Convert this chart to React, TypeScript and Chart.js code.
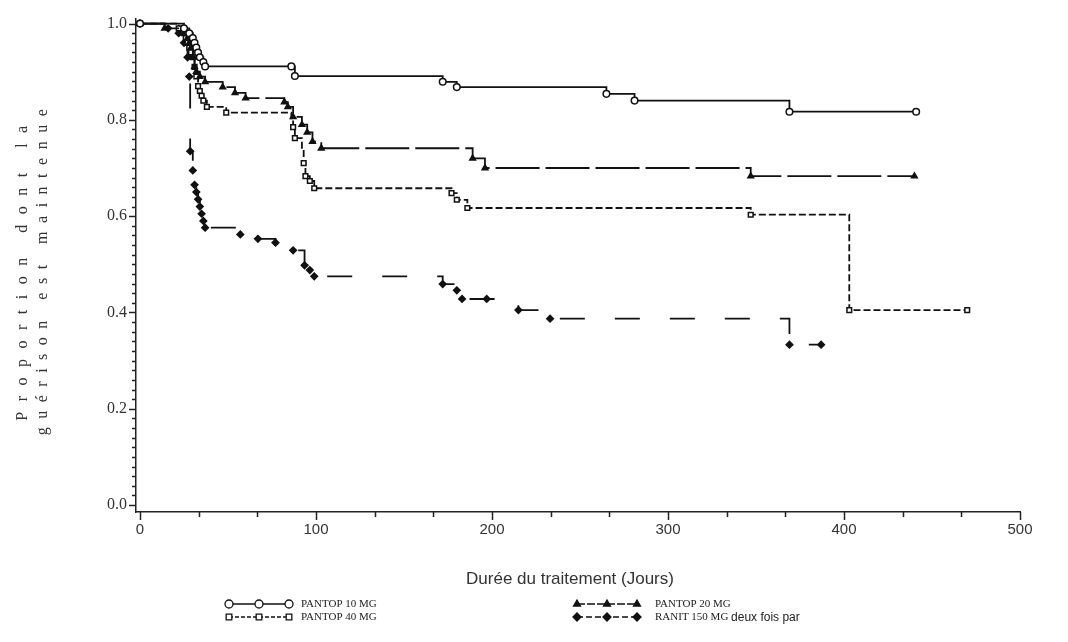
import React, { useEffect, useRef } from "react";
import { Chart, registerables } from "chart.js";
import { drawPoint } from "chart.js/helpers";

Chart.register(...registerables);

// ---- Tick labels ----
const xMajorValues = [0, 100, 200, 300, 400, 500];
const xTickLabels = ["0", "100", "200", "300", "400", "500"];
const yMajorValues = [0, 0.2, 0.4, 0.6, 0.8, 1.0];
const yTickLabels = ["0.0", "0.2", "0.4", "0.6", "0.8", "1.0"];
const xMinorStep = 100 / 3;
const yMinorStep = 0.02;

// ---- Series names ----
const seriesNames = ["PANTOP 10 MG", "PANTOP 20 MG", "PANTOP 40 MG", "RANIT 150 MG"];
const ranitSuffix = "deux fois par";
const xTitle = "Durée du traitement (Jours)";
const yTitleLines = ["Proportion dont la", "guérison est maintenue"];

// ---- PANTOP 10 MG ----
const p10Times = [0, 25, 28, 30, 31, 32, 33, 34, 36, 37, 86, 88, 172, 180, 265, 281, 369, 441];
const p10Surv = [1, 0.99, 0.98, 0.97, 0.96, 0.95, 0.94, 0.93, 0.92, 0.911, 0.911, 0.891, 0.879, 0.868, 0.854, 0.84, 0.817, 0.817];
const p10Mark = [1, 1, 1, 1, 1, 1, 1, 1, 1, 1, 1, 1, 1, 1, 1, 1, 1, 1];

// ---- PANTOP 20 MG ----
const p20Times = [0, 14, 24, 27, 28, 29, 30, 31, 32, 34, 37, 47, 54, 60, 82, 84, 87, 92, 95, 98, 103, 189, 196, 347, 440];
const p20Surv = [1, 0.99, 0.98, 0.97, 0.96, 0.95, 0.93, 0.91, 0.9, 0.89, 0.879, 0.868, 0.856, 0.845, 0.837, 0.827, 0.806, 0.79, 0.774, 0.755, 0.741, 0.72, 0.7, 0.683, 0.683];
const p20Mark = [1, 1, 1, 1, 1, 1, 1, 1, 1, 1, 1, 1, 1, 1, 1, 1, 1, 1, 1, 1, 1, 1, 1, 1, 1];

// ---- PANTOP 40 MG ----
const p40Times = [0, 22, 25, 26, 27, 28, 29, 30, 31, 32, 33, 34, 35, 36, 38, 49, 86, 87, 88, 92, 93, 94, 96.5, 99, 177, 180, 186, 347, 403, 470];
const p40Surv = [1, 0.99, 0.98, 0.97, 0.96, 0.95, 0.94, 0.93, 0.91, 0.89, 0.87, 0.86, 0.85, 0.84, 0.827, 0.815, 0.8, 0.785, 0.762, 0.74, 0.71, 0.683, 0.673, 0.658, 0.648, 0.634, 0.617, 0.603, 0.405, 0.405];
const p40Mark = [1, 1, 1, 1, 1, 1, 1, 1, 1, 1, 1, 1, 1, 1, 1, 1, 0, 1, 1, 0, 1, 1, 1, 1, 1, 1, 1, 1, 1, 1];

// ---- RANIT 150 MG ----
const ranTimes = [0, 16, 22, 25, 27, 28, 28.5, 30, 31, 32, 33, 34, 35, 36, 37, 57, 67, 77, 87, 93.5, 96.5, 99, 172, 180, 183, 197, 215, 233, 369, 387];
const ranSurv = [1, 0.99, 0.98, 0.96, 0.93, 0.89, 0.735, 0.695, 0.665, 0.65, 0.635, 0.62, 0.605, 0.59, 0.576, 0.562, 0.553, 0.545, 0.529, 0.498, 0.488, 0.475, 0.459, 0.446, 0.428, 0.428, 0.405, 0.387, 0.333, 0.333];
const ranMark = [1, 1, 1, 1, 1, 1, 1, 1, 1, 1, 1, 1, 1, 1, 1, 1, 1, 1, 1, 1, 1, 1, 1, 1, 1, 1, 1, 1, 1, 1];

const toPoints = (t: number[], s: number[]) => t.map((x, i) => ({ x, y: s[i] }));

const INK = "#111";

function makeDataset(label: string, t: number[], s: number[], m: number[], style: any) {
  return {
    label,
    data: toPoints(t, s),
    stepped: "before" as const,
    borderColor: INK,
    borderWidth: 1.8,
    borderDash: style.dash,
    pointStyle: style.point,
    pointRadius: (c: any) => (m[c.dataIndex] ? 3.3 : 0),
    pointBackgroundColor: style.fill,
    pointBorderColor: INK,
    pointBorderWidth: 1.5,
    fill: false,
    tension: 0,
    clip: false as any,
  };
}

const isMajor = (v: number, majors: number[]) => majors.findIndex((m) => Math.abs(m - v) < 1e-6);

const axisPlugin = {
  id: "kmAxes",
  afterDraw(chart: any) {
    const ctx = chart.ctx as CanvasRenderingContext2D;
    const xs = chart.scales.x;
    const ys = chart.scales.y;
    const area = chart.chartArea;
    ctx.save();
    ctx.strokeStyle = "#222";
    ctx.lineWidth = 1.5;
    ys.ticks.forEach((t: any) => {
      const py = Math.round(ys.getPixelForValue(t.value)) + 0.5;
      const len = isMajor(t.value, yMajorValues) >= 0 ? 7 : 4;
      ctx.beginPath();
      ctx.moveTo(area.left, py);
      ctx.lineTo(area.left - len, py);
      ctx.stroke();
    });
    xs.ticks.forEach((t: any) => {
      const px = Math.round(xs.getPixelForValue(t.value)) + 0.5;
      const len = isMajor(t.value, xMajorValues) >= 0 ? 8 : 5;
      ctx.beginPath();
      ctx.moveTo(px, area.bottom);
      ctx.lineTo(px, area.bottom + len);
      ctx.stroke();
    });

    // axis titles
    ctx.fillStyle = "#333";
    ctx.font = "17px 'Liberation Sans', Arial, sans-serif";
    ctx.textAlign = "center";
    ctx.textBaseline = "middle";
    ctx.fillText(xTitle, 570, 579);

    ctx.font = "16px 'Liberation Serif', 'Times New Roman', serif";
    const spacings = ["10.5px", "8.5px"];
    const cx = [23, 43];
    yTitleLines.forEach((line, i) => {
      ctx.save();
      (ctx as any).letterSpacing = spacings[i];
      ctx.translate(cx[i], 268);
      ctx.rotate(-Math.PI / 2);
      ctx.textAlign = "center";
      ctx.textBaseline = "middle";
      ctx.fillText(line, 0, 0);
      ctx.restore();
    });

    // legend
    const entries = [
      { ds: 0, sx: 229, tx: 301, y: 604 },
      { ds: 2, sx: 229, tx: 301, y: 617 },
      { ds: 1, sx: 577, tx: 655, y: 604 },
      { ds: 3, sx: 577, tx: 655, y: 617 },
    ];
    entries.forEach((e) => {
      const ds = chart.data.datasets[e.ds];
      ctx.save();
      ctx.strokeStyle = INK;
      ctx.lineWidth = 1.3;
      ctx.setLineDash(e.ds === 3 ? [6, 3] : e.ds === 1 ? [8, 2] : e.ds === 2 ? [4, 2] : []);
      ctx.beginPath();
      ctx.moveTo(e.sx, e.y);
      ctx.lineTo(e.sx + 60, e.y);
      ctx.stroke();
      ctx.setLineDash([]);
      [0, 30, 60].forEach((dx) => {
        ctx.fillStyle = ds.pointBackgroundColor;
        ctx.strokeStyle = INK;
        ctx.lineWidth = 1.3;
        drawPoint(ctx, { pointStyle: ds.pointStyle, radius: 4, rotation: 0, borderWidth: 1.3 } as any, e.sx + dx, e.y);
      });
      ctx.restore();
      ctx.fillStyle = "#222";
      ctx.textAlign = "left";
      ctx.textBaseline = "middle";
      ctx.font = "11px 'Liberation Serif', 'Times New Roman', serif";
      const name = seriesNames[e.ds];
      ctx.fillText(name, e.tx, e.y);
      if (e.ds === 3) {
        const w = ctx.measureText(name + " ").width;
        ctx.font = "12px 'Liberation Sans', Arial, sans-serif";
        ctx.fillText(ranitSuffix, e.tx + w, e.y + 1);
      }
    });
    ctx.restore();
  },
};

export default function App() {
  const ref = useRef<HTMLCanvasElement | null>(null);

  useEffect(() => {
    if (!ref.current) return;
    const chart = new Chart(ref.current, {
      type: "line",
      data: {
        datasets: [
          makeDataset(seriesNames[0], p10Times, p10Surv, p10Mark, { dash: [], point: "circle", fill: "#fff" }),
          makeDataset(seriesNames[1], p20Times, p20Surv, p20Mark, { dash: [44, 6], point: "triangle", fill: INK }),
          makeDataset(seriesNames[2], p40Times, p40Surv, p40Mark, { dash: [7, 3], point: "rect", fill: "#fff" }),
          makeDataset(seriesNames[3], ranTimes, ranSurv, ranMark, { dash: [25, 30], point: "rectRot", fill: INK }),
        ] as any,
      },
      options: {
        responsive: false,
        animation: false,
        events: [],
        layout: { padding: { left: 0, top: 14, right: 48, bottom: 0 } },
        plugins: { legend: { display: false }, tooltip: { enabled: false } },
        scales: {
          x: {
            type: "linear",
            min: -2.27,
            max: 500,
            afterBuildTicks: (scale: any) => {
              const arr = [];
              for (let i = 0; i <= 15; i++) arr.push({ value: i * xMinorStep });
              scale.ticks = arr;
            },
            afterFit: (scale: any) => {
              scale.height = 130;
            },
            grid: { display: false, drawTicks: false },
            border: { display: true, color: "#222", width: 1.5 },
            ticks: {
              autoSkip: false,
              maxRotation: 0,
              padding: 9,
              color: "#333",
              font: { family: "'Liberation Sans', Arial, sans-serif", size: 15 },
              callback: (v: any) => {
                const i = isMajor(Number(v), xMajorValues);
                return i >= 0 ? xTickLabels[i] : "";
              },
            },
          },
          y: {
            type: "linear",
            min: -0.0144,
            max: 1.0103,
            afterBuildTicks: (scale: any) => {
              const arr = [];
              for (let i = 0; i <= 50; i++) arr.push({ value: i * yMinorStep });
              scale.ticks = arr;
            },
            afterFit: (scale: any) => {
              scale.width = 136;
            },
            grid: { display: false, drawTicks: false },
            border: { display: true, color: "#222", width: 1.5 },
            ticks: {
              autoSkip: false,
              padding: 9,
              color: "#333",
              font: { family: "'Liberation Serif', 'Times New Roman', serif", size: 16 },
              callback: (v: any) => {
                const i = isMajor(Number(v), yMajorValues);
                return i >= 0 ? yTickLabels[i] : "";
              },
            },
          },
        },
      } as any,
      plugins: [axisPlugin],
    });
    return () => chart.destroy();
  }, []);

  return (
    <div style={{ position: "absolute", left: 0, top: 0, width: 1068, height: 642, background: "#fff" }}>
      <canvas ref={ref} width={1068} height={642} />
    </div>
  );
}
